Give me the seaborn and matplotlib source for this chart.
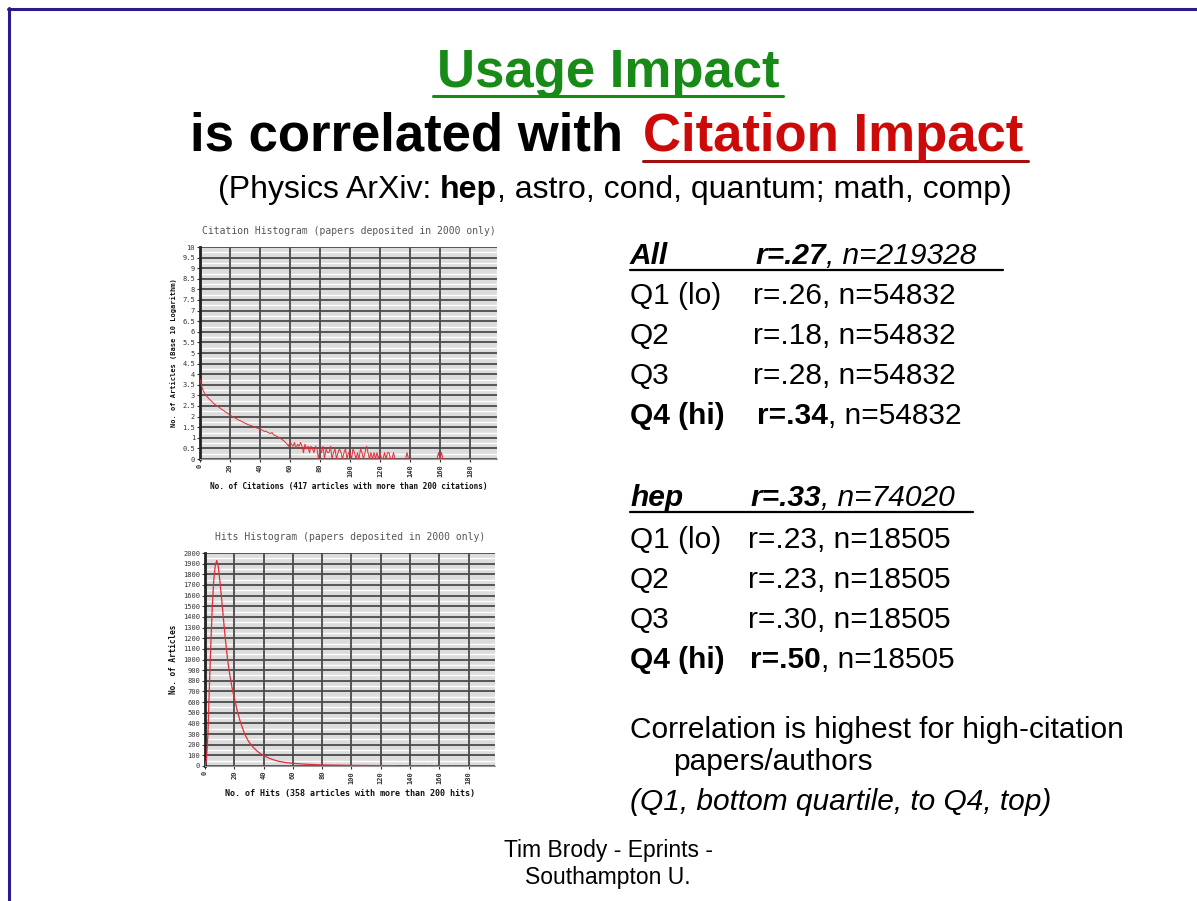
import numpy as np
import pandas as pd
import matplotlib
matplotlib.use("Agg")
import matplotlib.pyplot as plt
import seaborn as sns
from matplotlib.lines import Line2D

# ---------------- data ----------------
cit_x = list(range(0, 131))
cit_log = [3.75, 3.45, 3.25, 3.10, 3.00, 2.92, 2.84, 2.77, 2.70, 2.63, 2.57, 2.52, 2.47, 2.42, 2.37, 2.32, 2.27, 2.22, 2.17, 2.12, 2.07,
           2.03, 1.99, 1.95, 1.91, 1.87, 1.83, 1.80, 1.76, 1.73, 1.69, 1.66, 1.62, 1.60, 1.58, 1.55, 1.52, 1.50, 1.46, 1.43, 1.40,
           1.38, 1.34, 1.30, 1.32, 1.26, 1.23, 1.20, 1.25, 1.15, 1.11, 1.08, 1.04, 1.00, 0.95, 0.90, 0.85, 0.78, 0.70, 0.60, 0.85,
           0.70, 0.60, 0.78, 0.48, 0.70, 0.60, 0.78, 0.60, 0.30, 0.70, 0.48, 0.60, 0.30, 0.60, 0.48, 0.30, 0.60, 0.48, 0.00, 0.48,
           0.30, 0.60, 0.00, 0.48, 0.30, 0.30, 0.60, 0.00, 0.30, 0.48, 0.00, 0.30, 0.48, 0.30, 0.00, 0.30, 0.48, 0.00, 0.30, 0.30,
           0.00, 0.48, 0.30, 0.00, 0.30, 0.00, 0.48, 0.30, 0.00, 0.30, 0.60, 0.30, 0.00, 0.30, 0.00, 0.30, 0.00, 0.30, 0.00, 0.30,
           0.00, 0.00, 0.30, 0.00, 0.30, 0.30, 0.00, 0.00, 0.30, 0.00]
cit_spike1_x = [137, 138, 139]
cit_spike1_y = [0.00, 0.30, 0.00]
cit_spike2_x = [158, 159, 160, 161, 162, 163]
cit_spike2_y = [0.00, 0.30, 0.00, 0.30, 0.00, 0.00]

hits_x = [0, 1, 2, 3, 4, 5, 6, 7, 8, 9, 10, 11, 12, 13, 14, 15, 16, 17, 18, 19, 20,
          21, 22, 23, 24, 25, 26, 27, 28, 29, 30, 32, 34, 36, 38, 40, 42, 44, 46, 48, 50,
          55, 60, 65, 70, 75, 80, 90, 100, 110, 120, 130]
hits_n = [0, 60, 300, 750, 1150, 1500, 1750, 1880, 1930, 1880, 1760, 1620, 1470, 1320, 1180, 1050, 940, 850, 770, 700, 640,
          580, 520, 470, 420, 380, 340, 305, 275, 250, 225, 190, 160, 135, 115, 100, 85, 72, 62, 53, 45,
          33, 25, 20, 16, 13, 10, 8, 6, 5, 4, 3]
hits_tail_x = [130, 140, 150, 160, 170, 180, 190]
hits_tail_n = [3, 3, 2, 3, 2, 2, 2]

cit_yticks = [i * 0.5 for i in range(21)]
cit_yticklabels = ["0", "0.5", "1", "1.5", "2", "2.5", "3", "3.5", "4", "4.5", "5", "5.5", "6", "6.5", "7", "7.5", "8", "8.5", "9", "9.5", "10"]
hits_yticks = list(range(0, 2001, 100))
x_ticks = [0, 20, 40, 60, 80, 100, 120, 140, 160, 180]

all_rows = ["Q1 (lo)", "Q2", "Q3", "Q4 (hi)"]
all_r = ["r=.26", "r=.18", "r=.28", "r=.34"]
all_n = ["n=54832", "n=54832", "n=54832", "n=54832"]
hep_r = ["r=.23", "r=.23", "r=.30", "r=.50"]
hep_n = ["n=18505", "n=18505", "n=18505", "n=18505"]

# ---------------- figure ----------------
W, H = 1197, 901
sns.set_theme(style="white")
plt.rcParams["font.family"] = ["Liberation Sans", "DejaVu Sans"]
plt.rcParams["text.color"] = "black"
plt.rcParams["axes.labelcolor"] = "black"
fig = plt.figure(figsize=(W / 100, H / 100), dpi=100)
fig.patch.set_facecolor("white")


def P(x, y):
    return (x / W, 1 - y / H)


def hline(x0, x1, y, color, lw):
    fig.add_artist(Line2D([x0 / W, x1 / W], [1 - y / H, 1 - y / H], color=color, lw=lw, transform=fig.transFigure))


def vline(x, y0, y1, color, lw):
    fig.add_artist(Line2D([x / W, x / W], [1 - y0 / H, 1 - y1 / H], color=color, lw=lw, transform=fig.transFigure))


renderer = fig.canvas.get_renderer()


def width_of(s, **kw):
    t = fig.text(0, 0, s, **kw)
    w = t.get_window_extent(renderer=renderer).width
    t.remove()
    return w


# slide frame
hline(8, 1197, 9, "#2b1a8c", 2.2)
vline(9, 8, 901, "#2b1a8c", 2.2)

# ---------------- titles ----------------
green = "#178a17"
red = "#cc0a0a"
fig.text(*P(608, 87), "Usage Impact", fontsize=38, fontweight="bold", color=green, ha="center", va="baseline")
hline(433, 783, 96, green, 2.2)
fig.text(*P(190, 151), "is correlated with", fontsize=38, fontweight="bold", color="black", ha="left", va="baseline")
fig.text(*P(643, 151), "Citation Impact", fontsize=38, fontweight="bold", color=red, ha="left", va="baseline")
hline(643, 1028, 161, "#a01010", 2.2)

fs3 = 23
x = 218
p1 = "(Physics ArXiv: "
fig.text(*P(x, 198), p1, fontsize=fs3, ha="left", va="baseline", color="black")
x += width_of(p1 + "x", fontsize=fs3) - width_of("x", fontsize=fs3)
fig.text(*P(x, 198), "hep", fontsize=fs3, fontweight="bold", ha="left", va="baseline", color="black")
x += width_of("hep", fontsize=fs3, fontweight="bold")
fig.text(*P(x, 198), ", astro, cond, quantum; math, comp)", fontsize=fs3, ha="left", va="baseline", color="black")

# ---------------- right text block ----------------
fs = 21.5


def head_row(y, label, rtxt, ntxt, x_r, x_end):
    fig.text(*P(630, y), label, fontsize=fs, fontweight="bold", fontstyle="italic", ha="left", va="baseline", color="black")
    fig.text(*P(x_r, y), rtxt, fontsize=fs, fontweight="bold", fontstyle="italic", ha="left", va="baseline", color="black")
    xx = x_r + width_of(rtxt, fontsize=fs, fontweight="bold", fontstyle="italic")
    fig.text(*P(xx, y), ", " + ntxt, fontsize=fs, fontstyle="italic", ha="left", va="baseline", color="black")
    hline(630, x_end, y + 6, "black", 1.6)


def q_row(y, label, rtxt, ntxt, x_r, bold):
    w = "bold" if bold else "normal"
    fig.text(*P(630, y), label, fontsize=fs, fontweight=w, ha="left", va="baseline", color="black")
    fig.text(*P(x_r, y), rtxt, fontsize=fs, fontweight=w, ha="left", va="baseline", color="black")
    xx = x_r + width_of(rtxt, fontsize=fs, fontweight=w)
    fig.text(*P(xx, y), ", " + ntxt, fontsize=fs, ha="left", va="baseline", color="black")


head_row(264, "All", "r=.27", "n=219328", 755, 1003)
for i in range(4):
    q_row(304 + 40 * i, all_rows[i], all_r[i], all_n[i], 753 if i < 3 else 757, i == 3)
head_row(506, "hep", "r=.33", "n=74020", 750, 973)
for i in range(4):
    q_row(548 + 40 * i, all_rows[i], hep_r[i], hep_n[i], 748 if i < 3 else 750, i == 3)

fig.text(*P(630, 738), "Correlation is highest for high-citation", fontsize=fs, ha="left", va="baseline", color="black")
fig.text(*P(673, 770), "papers/authors", fontsize=fs, ha="left", va="baseline", color="black")
fig.text(*P(630, 810), "(Q1, bottom quartile, to Q4, top)", fontsize=fs, fontstyle="italic", ha="left", va="baseline", color="black")

fig.text(*P(608, 857), "Tim Brody - Eprints -", fontsize=16.5, ha="center", va="baseline", color="black")
fig.text(*P(608, 884), "Southampton U.", fontsize=16.5, ha="center", va="baseline", color="black")

# ---------------- histograms ----------------
mono = ["DejaVu Sans Mono"]
line_red = "#e0303a"


def style_axes(ax, yticks, ylabels, ymax):
    ax.set_facecolor("#dcdcdc")
    ax.set_xlim(0, 198)
    ax.set_ylim(0, ymax)
    ax.set_xticks(x_ticks)
    ax.set_xticklabels([str(t) for t in x_ticks], rotation=90, fontsize=5.0, family=mono, color="#333",
                       fontweight="bold")
    ax.set_yticks(yticks)
    ax.set_yticklabels(ylabels, fontsize=5.0, family=mono, color="#333")
    step = yticks[1] - yticks[0]
    for t in yticks[:-1]:
        ax.axhline(t + step / 2, color="white", lw=1.0, zorder=0.3)
    ax.grid(True, which="major", axis="both", color="#4a4a4a", lw=1.3, ls="-")
    ax.tick_params(axis="both", which="major", length=2, width=0.8, color="#333", pad=1.5, left=True, bottom=True)
    for s in ["top", "right"]:
        ax.spines[s].set_visible(False)
    ax.spines["left"].set_color("#222")
    ax.spines["left"].set_linewidth(2.0)
    ax.spines["bottom"].set_color("#999")
    ax.spines["bottom"].set_linewidth(0.8)
    ax.set_axisbelow(True)


# Citation histogram
ax1 = fig.add_axes([200 / W, 1 - 459 / H, 297 / W, 212 / H])
cit_df = pd.DataFrame({
    "citations": cit_x + cit_spike1_x + cit_spike2_x,
    "log_articles": cit_log + cit_spike1_y + cit_spike2_y,
    "seg": [0] * len(cit_x) + [1] * len(cit_spike1_x) + [2] * len(cit_spike2_x),
})
sns.lineplot(data=cit_df, x="citations", y="log_articles", units="seg", estimator=None,
             color=line_red, lw=0.7, ax=ax1, legend=False, zorder=3)
style_axes(ax1, cit_yticks, cit_yticklabels, 10)
ax1.set_xlabel("No. of Citations (417 articles with more than 200 citations)", fontsize=5.6,
               fontweight="bold", family=mono, labelpad=4, color="#111")
ax1.set_ylabel("No. of Articles (Base 10 Logarithm)", fontsize=5.0, fontweight="bold", family=mono,
               labelpad=4, color="#111")
ax1.set_title("Citation Histogram (papers deposited in 2000 only)", fontsize=7.0, family=mono,
              color="#555", pad=9)

# Hits histogram
ax2 = fig.add_axes([205 / W, 1 - 766 / H, 290 / W, 213 / H])
hits_df = pd.DataFrame({"hits": hits_x, "articles": hits_n})
tail_df = pd.DataFrame({"hits": hits_tail_x, "articles": hits_tail_n})
sns.lineplot(data=hits_df, x="hits", y="articles", color=line_red, lw=0.9, ax=ax2, legend=False, zorder=3)
sns.lineplot(data=tail_df, x="hits", y="articles", color=line_red, lw=0.9, ls=(0, (2, 3)), ax=ax2, legend=False, zorder=3)
style_axes(ax2, hits_yticks, [str(t) for t in hits_yticks], 2000)
ax2.set_xlabel("No. of Hits (358 articles with more than 200 hits)", fontsize=6.0,
               fontweight="bold", family=mono, labelpad=4, color="#111")
ax2.set_ylabel("No. of Articles", fontsize=5.6, fontweight="bold", family=mono, labelpad=4, color="#111")
ax2.set_title("Hits Histogram (papers deposited in 2000 only)", fontsize=7.0, family=mono,
              color="#555", pad=9)

fig.savefig("out.png", dpi=100, facecolor="white")
